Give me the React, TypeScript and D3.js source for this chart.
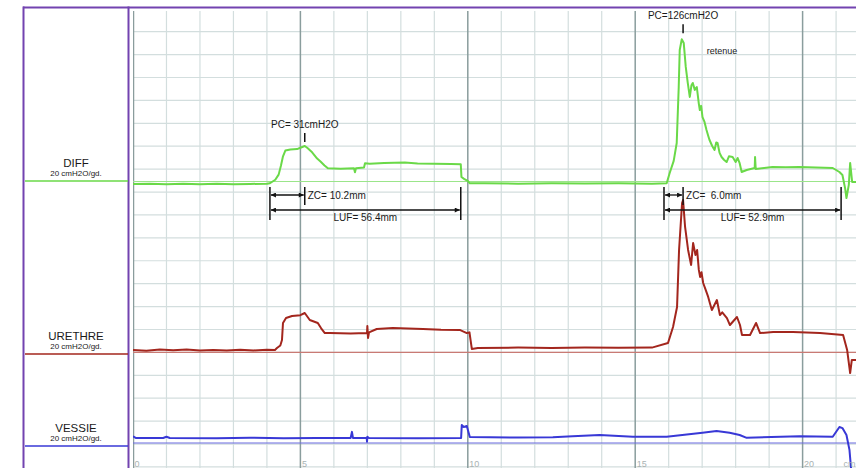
import React from 'react';
import * as d3 from 'd3';

// ---------- data ----------
const xMajorTicks = [0, 5, 10, 15, 20];
const xTickLabels = ['0', '5', '10', '15', '20'];
const xUnitLabel = 'cm';
const channelNames = ['DIFF', 'URETHRE', 'VESSIE'];
const channelUnits = ['20 cmH2O/gd.', '20 cmH2O/gd.', '20 cmH2O/gd.'];

// [position cm, pressure cmH2O]
const diffTrace: [number, number][] = [
  [0, -2.2], [0.5, -2.0], [1.0, -2.4], [1.5, -2.0], [2.0, -2.3], [2.5, -2.0], [3.0, -2.3], [3.5, -2.1], [4.0, -2.0],
  [4.09, -1.5], [4.25, 1.5], [4.35, 6], [4.42, 14], [4.48, 22], [4.55, 27], [4.7, 28], [4.9, 28.3], [5.0, 29.5],
  [5.13, 31], [5.22, 29], [5.35, 25.5], [5.5, 20], [5.6, 17.5], [5.72, 14], [5.82, 11.5], [6.2, 11.2], [6.6, 11.6],
  [6.63, 8], [6.66, 11.6], [6.9, 12.2], [6.93, 16], [7.07, 15.5], [7.5, 16.2], [8.12, 16.6], [8.5, 15.8], [9.0, 15.4],
  [9.5, 15.2], [9.79, 15], [9.81, 4], [9.9, 2], [10.0, 0.5], [10.06, -1.6], [10.5, -1.6], [11.5, -1.9], [12.5, -1.6],
  [13.5, -1.8], [14.5, -1.6], [15.5, -1.9], [15.94, -1.6], [16.03, 7.4], [16.15, 18], [16.24, 33.6], [16.3, 82.5],
  [16.33, 114.8], [16.39, 124.1], [16.45, 120.9], [16.51, 100], [16.57, 86], [16.63, 73.8], [16.68, 84], [16.72, 86],
  [16.78, 80], [16.84, 82.5], [16.9, 68], [16.93, 62.4], [16.97, 66], [17.01, 56.3], [17.07, 52], [17.13, 44.9],
  [17.18, 40], [17.22, 36.2], [17.3, 31], [17.37, 27.5], [17.42, 34], [17.46, 33.6], [17.52, 25], [17.58, 21.4],
  [17.65, 19], [17.73, 17], [17.8, 22], [17.91, 21.4], [18.0, 17], [18.06, 20.5], [18.12, 16], [18.18, 8.3],
  [18.33, 10], [18.57, 11.8], [18.58, 21.4], [18.6, 10.9], [19.1, 12.7], [19.5, 12.4], [19.9, 12.7], [20.4, 12.2],
  [20.9, 11.8], [21.1, 8.3], [21.19, 5.7], [21.27, -6], [21.31, -14.4], [21.38, -3], [21.42, 16.2], [21.48, -0.4],
  [21.7, -0.4],
];

const urethreTrace: [number, number][] = [
  [0, 2.1], [0.4, 1.5], [0.8, 2.6], [1.2, 1.8], [1.6, 2.5], [2.0, 1.6], [2.4, 2.2], [2.8, 1.6], [3.2, 2.4], [3.6, 1.7],
  [4.0, 2.3], [4.24, 2.1], [4.3, 3.8], [4.4, 6], [4.45, 10.8], [4.48, 25.7], [4.57, 30], [4.75, 31.8], [5.0, 32.5],
  [5.13, 34.4], [5.28, 28.3], [5.52, 25.7], [5.62, 21], [5.73, 16.9], [5.88, 16.9], [6.5, 16.5], [6.99, 16.9],
  [7.0, 23], [7.02, 12.6], [7.05, 17.5], [7.28, 20.4], [7.76, 21.3], [8.66, 20.4], [9.2, 19.8], [9.76, 19.6],
  [9.97, 16.9], [10.05, 17.5], [10.12, 3], [10.3, 3.8], [11.5, 4.2], [12.5, 3.9], [13.5, 4.2], [14.5, 4.0],
  [15.5, 4.2], [15.98, 8.2], [16.13, 22.2], [16.25, 39.6], [16.31, 89.4], [16.4, 130.4], [16.43, 133], [16.49, 109.5],
  [16.58, 89.4], [16.67, 76.3], [16.73, 95.5], [16.8, 85], [16.85, 89.4], [16.9, 72], [16.94, 65.8], [16.98, 70],
  [17.03, 60.6], [17.1, 55], [17.18, 48.4], [17.24, 42], [17.29, 37], [17.44, 45.7], [17.53, 32.6], [17.6, 35],
  [17.74, 30], [17.83, 23.9], [18.04, 30.9], [18.13, 23.9], [18.19, 15.2], [18.43, 15.2], [18.61, 25.7], [18.73, 16.9],
  [19.12, 17.8], [19.71, 17.8], [20.52, 16.9], [21.21, 15.2], [21.33, 2.1], [21.42, -18], [21.47, -6.6], [21.7, -6.6],
];

const vessieTrace: [number, number][] = [
  [0, 5.8], [0.08, 4.4], [0.9, 4.4], [1.0, 5.4], [1.1, 4.4], [2.5, 4.2], [3.5, 4.6], [4.5, 4.2], [5.5, 4.4],
  [6.5, 4.4], [6.54, 9.7], [6.57, 4.4], [6.98, 4.4], [6.99, 1.2], [7.0, 5.5], [7.05, 4.4], [8.5, 4.2], [9.8, 4.4],
  [9.82, 15.7], [9.88, 14], [9.97, 14.8], [10.06, 5.2], [11.5, 4.8], [12.54, 5], [13.13, 6], [13.94, 7], [14.93, 5.5],
  [15.94, 5.5], [16.54, 7.5], [17.01, 9], [17.43, 10.5], [17.82, 9], [18.12, 7], [18.33, 4.5], [19.91, 6], [20.9, 5.5],
  [21.1, 14], [21.19, 13], [21.31, 7], [21.4, -6], [21.47, -30],
];

const annotations = [
  { pc: 'PC= 31cmH2O', pcValue: 31, zc: 'ZC= 10.2mm', luf: 'LUF= 56.4mm', start: 4.09, peak: 5.13, end: 9.79, note: '', noteX: 0, noteValue: 0 },
  { pc: 'PC=126cmH2O', pcValue: 126, zc: 'ZC=  6.0mm', luf: 'LUF= 52.9mm', start: 15.86, peak: 16.43, end: 21.15, note: 'retenue', noteX: 17.14, noteValue: 111 },
];

// ---------- layout ----------
const W = 856;
const H = 468;
const plotLeft = 133;
const plotTop = 11;
const cmPx = 33.48;
const gridPx = 22.91; // per 20 cmH2O
const baselines = [181.5, 352.4, 443];
const labelLines = [181, 354, 446];
const traceColors = ['#6ad948', '#a3261d', '#3838d6'];
const baseColors = ['#9be58a', '#c97a74', '#6a6ae0'];
const purple = '#7243b0';

const x = d3.scaleLinear().domain([0, 22]).range([plotLeft, plotLeft + 22 * cmPx]);
const yScales = baselines.map((b) => d3.scaleLinear().domain([0, 20]).range([b, b - gridPx]));
const traces = [diffTrace, urethreTrace, vessieTrace];

const minorX = d3.range(0, 23).filter((v) => x(v) <= W);
const gridVals = d3.range(-100, 320, 20).filter((v) => {
  const yy = yScales[1](v);
  return yy >= plotTop - 3 && yy <= H;
});

const font = 'Liberation Sans, Arial, Helvetica, sans-serif';

export default function App() {
  const lineGen = (s: d3.ScaleLinear<number, number>) =>
    d3.line<[number, number]>().x((d) => x(d[0])).y((d) => s(d[1]));
  const dy = yScales[0];
  return (
    <svg width={W} height={H} style={{ position: 'absolute', left: 0, top: 0, background: '#fff' }} fontFamily={font}>
      <defs>
        <clipPath id="plotclip">
          <rect x={plotLeft} y={plotTop} width={W - plotLeft} height={H - plotTop} />
        </clipPath>
        <marker id="ah" viewBox="0 0 10 10" refX="10" refY="5" markerWidth="7" markerHeight="5" orient="auto-start-reverse" markerUnits="userSpaceOnUse">
          <path d="M0,0 L10,5 L0,10 z" fill="#111" />
        </marker>
      </defs>
      {/* grid */}
      <g clipPath="url(#plotclip)">
        {gridVals.map((v) => (
          <line key={'h' + v} x1={plotLeft} x2={W} y1={yScales[1](v)} y2={yScales[1](v)} stroke="#d3dede" strokeWidth={1.2} />
        ))}
        {minorX.filter((v) => !xMajorTicks.includes(v)).map((v) => (
          <line key={'v' + v} x1={x(v)} x2={x(v)} y1={plotTop} y2={H} stroke="#d3dede" strokeWidth={1.2} />
        ))}
        {xMajorTicks.map((v) => (
          <line key={'M' + v} x1={x(v)} x2={x(v)} y1={plotTop} y2={H} stroke="#8a9d9d" strokeWidth={v === 0 ? 2.5 : 1.5} />
        ))}
        {/* baselines */}
        {yScales.map((s, i) => (
          <line key={'b' + i} x1={plotLeft} x2={W} y1={s(0)} y2={s(0)} stroke={baseColors[i]} strokeWidth={1.2} />
        ))}
        {/* traces */}
        {traces.map((t, i) => (
          <path key={'t' + i} d={lineGen(yScales[i])(t) || ''} fill="none" stroke={traceColors[i]} strokeWidth={2} strokeLinejoin="round" />
        ))}
      </g>
      {/* tick labels */}
      {xMajorTicks.map((v, i) => (
        <text key={'tl' + v} x={x(v) + 1.5} y={H - 1} fontSize={9} fill="#a9b2b2">{xTickLabels[i]}</text>
      ))}
      <text x={x(21.22)} y={H - 1} fontSize={9} fill="#a9b2b2">{xUnitLabel}</text>

      {/* annotations */}
      {annotations.map((a, i) => {
        const px = x(a.peak);
        const py = dy(a.pcValue);
        const xs = x(a.start);
        const xe = x(a.end);
        return (
          <g key={'a' + i} fill="#1a1a1a" fontSize={10} style={{ whiteSpace: 'pre' }}>
            <text x={px} y={py - 18} textAnchor="middle">{a.pc}</text>
            <line x1={px} x2={px} y1={py - 13} y2={py - 4} stroke="#111" strokeWidth={1.5} />
            <line x1={xs} x2={xs} y1={187} y2={220} stroke="#111" strokeWidth={1.5} />
            <line x1={xe} x2={xe} y1={187} y2={220} stroke="#111" strokeWidth={1.5} />
            <line x1={px} x2={px} y1={187} y2={205} stroke="#111" strokeWidth={1.5} />
            <line x1={xs + 1} x2={px - 1} y1={195} y2={195} stroke="#111" strokeWidth={1.3} markerStart="url(#ah)" markerEnd="url(#ah)" />
            <line x1={xs + 1} x2={xe - 1} y1={210} y2={210} stroke="#111" strokeWidth={1.3} markerStart="url(#ah)" markerEnd="url(#ah)" />
            <text x={px + 3} y={199} xmlSpace="preserve">{a.zc}</text>
            <text x={(xs + xe) / 2} y={221} textAnchor="middle">{a.luf}</text>
            {a.note ? <text x={x(a.noteX)} y={dy(a.noteValue)} fontSize={9}>{a.note}</text> : null}
          </g>
        );
      })}

      {/* frame */}
      <line x1={23} x2={W} y1={7.5} y2={7.5} stroke={purple} strokeWidth={2} />
      <line x1={23.5} x2={23.5} y1={6.5} y2={H} stroke={purple} strokeWidth={2} />
      <line x1={128.5} x2={128.5} y1={6.5} y2={H} stroke={purple} strokeWidth={2} />

      {/* channel labels */}
      {channelNames.map((n, i) => (
        <g key={'c' + i}>
          <text x={76} y={labelLines[i] - 14} textAnchor="middle" fontSize={11.5} fill="#1a1a1a">{n}</text>
          <text x={76} y={labelLines[i] - 5.5} textAnchor="middle" fontSize={8} fill="#1a1a1a">{channelUnits[i]}</text>
          <line x1={25} x2={128} y1={labelLines[i]} y2={labelLines[i]} stroke={traceColors[i]} strokeWidth={1.5} />
        </g>
      ))}
    </svg>
  );
}
